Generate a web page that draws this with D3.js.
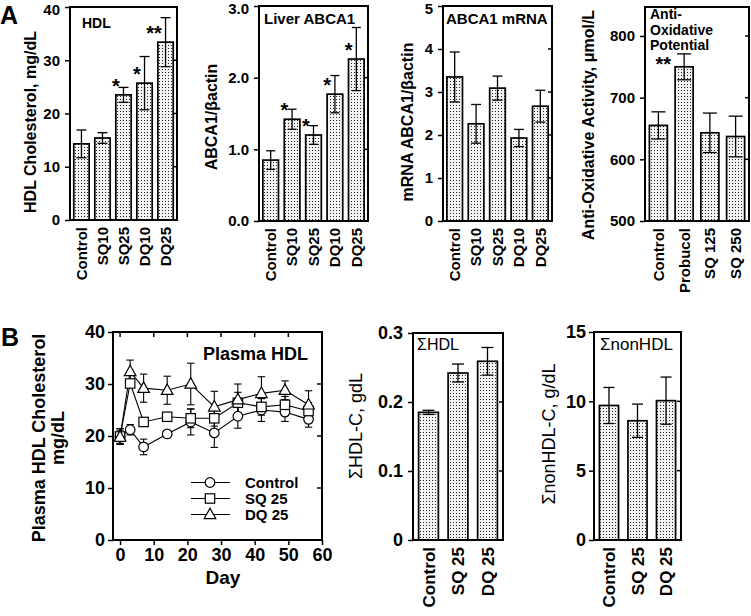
<!DOCTYPE html>
<html><head><meta charset="utf-8">
<script src="https://cdn.jsdelivr.net/npm/d3@7"></script>
<style>body{margin:0;background:#fff}svg{display:block}</style>
</head><body><svg id="c" width="751" height="616"></svg>
<script>
// ---------- data ----------
const groupsA = ["Control","SQ10","SQ25","DQ10","DQ25"];
const hdlMean = [14.3,15.4,23.5,25.7,33.4];
const hdlErr  = [2.6,1.0,1.4,5.0,4.6];
const hdlSig  = ["","","*","*","**"];
const hdlTicks = [0,10,20,30,40];

const liverMean = [0.85,1.42,1.20,1.77,2.26];
const liverErr  = [0.13,0.14,0.13,0.26,0.44];
const liverSig  = ["","*","*","*","*"];
const liverTicks = [0,1,2,3];

const mrnaMean = [3.35,2.26,3.09,1.93,2.67];
const mrnaErr  = [0.58,0.45,0.28,0.20,0.37];
const mrnaTicks = [0,1,2,3,4,5];

const groupsOx = ["Control","Probucol","SQ 125","SQ 250"];
const oxMean = [655,750,643,637];
const oxErr  = [22,21,32,33];
const oxSig  = ["","**","",""];
const oxTicks = [500,600,700,800];

const days    = [0,3,7,14,21,28,35,42,49,56];
const ctrlHDL = [19.9,21.2,17.9,20.4,22.7,20.6,23.8,25.0,24.6,23.2];
const ctrlErr = [1.5,1.0,1.5,0.5,2.5,2.8,2.3,2.2,1.8,1.5];
const sqHDL   = [19.9,30.1,22.7,23.7,23.4,23.4,26.4,25.6,26.0,24.8];
const sqErr   = [1.5,0.6,0.5,0.6,1.8,1.5,2.0,1.6,1.6,1.6];
const dqHDL   = [19.8,32.4,29.2,28.8,30.0,25.6,27.0,28.2,28.8,26.0];
const dqErr   = [1.2,2.2,2.7,2.7,4.0,3.0,3.0,3.2,1.8,2.7];
const dayTicks = [0,10,20,30,40,50,60];
const plasmaTicks = [0,10,20,30,40];

const groupsB = ["Control","SQ 25","DQ 25"];
const sumHdlMean = [0.185,0.242,0.259];
const sumHdlErr  = [0.003,0.013,0.020];
const sumHdlTicks = [0,0.1,0.2,0.3];
const sumNonMean = [9.7,8.6,10.05];
const sumNonErr  = [1.3,1.2,1.7];
const sumNonTicks = [0,5,10,15];

// ---------- drawing ----------
const F = '"Liberation Sans", Arial, Helvetica, sans-serif';
const svg = d3.select("#c");
const defs = svg.append("defs");
const pat = defs.append("pattern").attr("id","dots").attr("width",3).attr("height",3)
  .attr("patternUnits","userSpaceOnUse");
pat.append("rect").attr("width",3).attr("height",3).attr("fill","#f3f3f3");
pat.append("rect").attr("width",1).attr("height",1).attr("fill","#222");

function text(g, s, x, y, size, weight, anchor, rot, dy) {
  const t = g.append("text").attr("font-family",F).attr("font-size",size)
    .attr("font-weight",weight||"normal").attr("text-anchor",anchor||"start").attr("fill","#000").text(s);
  if (rot) t.attr("transform",`translate(${x},${y}) rotate(${rot})`);
  else t.attr("x",x).attr("y",y);
  if (dy) t.attr("dy",dy);
  return t;
}

function styleAxis(ax, size) {
  ax.attr("font-family",F).attr("font-size",size).attr("font-weight","bold");
  ax.select(".domain").remove();
  ax.selectAll("line").attr("stroke","#000").attr("stroke-width",1.5);
  ax.selectAll("text").attr("fill","#000");
}

function barPanel(o) {
  const g = svg.append("g");
  const x = d3.scaleBand().domain(o.cats).range([o.x0,o.x1]).paddingInner(o.pi).paddingOuter(o.po);
  const y = d3.scaleLinear().domain(o.domain).range([o.y1,o.y0]);
  const base = y(o.domain[0]);
  const cx = d => x(d) + x.bandwidth()/2;
  g.selectAll("rect.bar").data(o.cats).join("rect").attr("class","bar")
    .attr("x",d=>x(d)).attr("y",(d,i)=>y(o.mean[i]))
    .attr("width",x.bandwidth()).attr("height",(d,i)=>base-y(o.mean[i]))
    .attr("fill","url(#dots)").attr("stroke","#000").attr("stroke-width",1.7);
  const eb = g.selectAll("g.eb").data(o.cats).join("g").attr("class","eb")
    .attr("stroke","#000").attr("stroke-width",1.3);
  eb.append("line").attr("x1",cx).attr("x2",cx)
    .attr("y1",(d,i)=>y(o.mean[i]-o.err[i])).attr("y2",(d,i)=>y(o.mean[i]+o.err[i]));
  [1,-1].forEach(s=>{
    eb.append("line").attr("x1",d=>cx(d)-o.cap).attr("x2",d=>cx(d)+o.cap)
      .attr("y1",(d,i)=>y(o.mean[i]+s*o.err[i])).attr("y2",(d,i)=>y(o.mean[i]+s*o.err[i]));
  });
  // frame
  g.append("rect").attr("x",o.x0).attr("y",o.y0).attr("width",o.x1-o.x0).attr("height",o.y1-o.y0)
    .attr("fill","none").attr("stroke","#000").attr("stroke-width",2);
  // left axis
  const ax = g.append("g").attr("transform",`translate(${o.x0},0)`)
    .call(d3.axisLeft(y).tickValues(o.ticks).tickFormat(o.fmt).tickSize(5).tickPadding(o.tp||5));
  styleAxis(ax, o.tfs);
  // keep a label at the very top edge inside the picture
  ax.selectAll(".tick text").filter(d => y(d) < 10).attr("y", 2.5);
  // right inner ticks
  g.selectAll("line.rt").data(o.ticks.filter(t=>t>o.domain[0] && t<o.domain[1])).join("line")
    .attr("x1",o.x1-4).attr("x2",o.x1).attr("y1",d=>y(d)).attr("y2",d=>y(d))
    .attr("stroke","#000").attr("stroke-width",1.5);
  // category labels
  o.cats.forEach(c=>{
    text(g, c, cx(c), o.y1+7, o.xfs, "bold", "end", -90, "0.36em");
  });
  // significance
  if (o.sig) o.cats.forEach((c,i)=>{
    if (o.sig[i]) text(g, o.sig[i], x(c)+o.sigDx, y(o.mean[i])-o.sigUp, 20, "bold", "end");
  });
  // y title
  text(g, o.ytitle, o.ytx, o.yty, o.yfs, o.yweight||"bold", "middle", -90, "0.36em");
  // panel title
  o.title.forEach((s,i)=> text(g, s, o.titleX, o.titleY + i*15.5, o.titleFs, o.titleW||"bold", "start"));
  return g;
}

const fmt1 = d3.format(".1f");
barPanel({cats:groupsA, mean:hdlMean, err:hdlErr, sig:hdlSig, domain:[0,40], ticks:hdlTicks, fmt:d3.format("d"),
  x0:70, x1:177, y0:7, y1:220, pi:0.27, po:0.18, cap:5, tfs:15, xfs:15,
  ytitle:"HDL Cholesterol, mg/dL", ytx:30, yty:122, yfs:16,
  title:["HDL"], titleX:82, titleY:28, titleFs:14, titleW:"bold", sigDx:4, sigUp:2});
barPanel({cats:groupsA, mean:liverMean, err:liverErr, sig:liverSig, domain:[0,3], ticks:liverTicks, fmt:fmt1,
  x0:259, x1:368, y0:6, y1:221, pi:0.27, po:0.18, cap:4.5, tfs:15, xfs:15,
  ytitle:"ABCA1/βactin", ytx:211, yty:117, yfs:16,
  title:["Liver ABCA1"], titleX:264, titleY:24, titleFs:15, sigDx:4, sigUp:2});
barPanel({cats:groupsA, mean:mrnaMean, err:mrnaErr, sig:null, domain:[0,5], ticks:mrnaTicks, fmt:d3.format("d"),
  x0:443, x1:552, y0:6, y1:221, pi:0.27, po:0.18, cap:5, tfs:15, xfs:15,
  ytitle:"mRNA ABCA1/βactin", ytx:407, yty:122, yfs:16,
  title:["ABCA1 mRNA"], titleX:446, titleY:24, titleFs:15});
barPanel({cats:groupsOx, mean:oxMean, err:oxErr, sig:oxSig, domain:[500,847], ticks:oxTicks, fmt:d3.format("d"),
  x0:645, x1:749, y0:7, y1:221, pi:0.3, po:0.17, cap:7, tfs:15, xfs:15,
  ytitle:"Anti-Oxidative Activity, μmol/L", ytx:588, yty:125, yfs:16,
  title:["Anti-","Oxidative","Potential"], titleX:650, titleY:19, titleFs:14, sigDx:-4, sigUp:-4});

barPanel({cats:groupsB, mean:sumHdlMean, err:sumHdlErr, sig:null, domain:[0,0.3], ticks:sumHdlTicks, fmt:d=>d===0?"0":fmt1(d),
  x0:413, x1:503, y0:333, y1:540, pi:0.33, po:0.19, cap:6, tfs:18, xfs:17, tp:5,
  ytitle:"ΣHDL-C, gdL", ytx:356, yty:426, yfs:18, yweight:"normal",
  title:["ΣHDL"], titleX:417, titleY:350, titleFs:16, titleW:"normal"});
barPanel({cats:groupsB, mean:sumNonMean, err:sumNonErr, sig:null, domain:[0,15], ticks:sumNonTicks, fmt:d3.format("d"),
  x0:594, x1:681, y0:332, y1:540, pi:0.33, po:0.19, cap:5.5, tfs:18, xfs:17, tp:3,
  ytitle:"ΣnonHDL-C, g/dL", ytx:549, yty:434, yfs:18, yweight:"normal",
  title:["ΣnonHDL"], titleX:600, titleY:350, titleFs:17, titleW:"normal"});

// panel letters
text(svg, "A", 0, 24, 25, "bold", "start");
text(svg, "B", 1, 346, 25, "bold", "start");

// ---------- B line chart ----------
(function(){
  const g = svg.append("g");
  const x = d3.scaleLinear().domain([-2.1,60]).range([113,322]);
  const y = d3.scaleLinear().domain([0,40]).range([540,332]);
  const series = [
    {name:"Control", vals:ctrlHDL, err:ctrlErr, sym:"circle"},
    {name:"SQ 25", vals:sqHDL, err:sqErr, sym:"square"},
    {name:"DQ 25", vals:dqHDL, err:dqErr, sym:"triangle"}
  ];
  function marker(sel, sym) {
    if (sym==="circle") sel.append("circle").attr("r",4.8);
    else if (sym==="square") sel.append("rect").attr("x",-4.7).attr("y",-4.7).attr("width",9.4).attr("height",9.4);
    else sel.append("path").attr("d","M0,-6.3L5.8,4.2L-5.8,4.2Z");
    sel.selectAll("*").attr("fill","#fff").attr("stroke","#000").attr("stroke-width",1.2);
  }
  // error bars
  series.forEach(s=>{
    const eg = g.append("g").attr("stroke","#000").attr("stroke-width",1.1);
    days.forEach((d,i)=>{
      const px = x(d), lo = y(s.vals[i]-s.err[i]), hi = y(s.vals[i]+s.err[i]);
      eg.append("line").attr("x1",px).attr("x2",px).attr("y1",lo).attr("y2",hi);
      eg.append("line").attr("x1",px-3.7).attr("x2",px+3.7).attr("y1",lo).attr("y2",lo);
      eg.append("line").attr("x1",px-3.7).attr("x2",px+3.7).attr("y1",hi).attr("y2",hi);
    });
  });
  // lines
  const line = d3.line().x((d,i)=>x(days[i])).y(d=>y(d));
  series.forEach(s=>{
    g.append("path").attr("d",line(s.vals)).attr("fill","none").attr("stroke","#000").attr("stroke-width",1.1);
  });
  // markers
  series.forEach(s=>{
    days.forEach((d,i)=>{
      const m = g.append("g").attr("transform",`translate(${x(d)},${y(s.vals[i])})`);
      marker(m, s.sym);
    });
  });
  // frame
  g.append("rect").attr("x",113).attr("y",332).attr("width",209).attr("height",208)
    .attr("fill","none").attr("stroke","#000").attr("stroke-width",2);
  const ay = g.append("g").attr("transform","translate(113,0)")
    .call(d3.axisLeft(y).tickValues(plasmaTicks).tickFormat(d3.format("d")).tickSize(5).tickPadding(3));
  styleAxis(ay, 18);
  const axb = g.append("g").attr("transform","translate(0,540)")
    .call(d3.axisBottom(x).tickValues(dayTicks).tickFormat(d3.format("d")).tickSize(5).tickPadding(3));
  styleAxis(axb, 18);
  // inner ticks top and right
  g.selectAll("line.tt").data(dayTicks).join("line").attr("x1",d=>x(d)).attr("x2",d=>x(d))
    .attr("y1",332).attr("y2",337).attr("stroke","#000").attr("stroke-width",1.5);
  g.selectAll("line.rr").data(plasmaTicks.slice(1,-1)).join("line").attr("x1",317).attr("x2",322)
    .attr("y1",d=>y(d)).attr("y2",d=>y(d)).attr("stroke","#000").attr("stroke-width",1.5);
  // titles
  text(g, "Plasma HDL", 308, 360, 18, "bold", "end");
  text(g, "Day", 223, 584, 19, "bold", "middle");
  text(g, "Plasma HDL Cholesterol", 39, 438, 18, "bold", "middle", -90, "0.36em");
  text(g, "mg/dL", 58, 438, 18, "bold", "middle", -90, "0.36em");
  // legend
  const rowY = [482.5, 498.5, 514.5];
  series.forEach((s,i)=>{
    g.append("line").attr("x1",191).attr("x2",230).attr("y1",rowY[i]).attr("y2",rowY[i])
      .attr("stroke","#000").attr("stroke-width",1.1);
    const m = g.append("g").attr("transform",`translate(210,${rowY[i]})`);
    marker(m, s.sym);
    text(g, s.name, 245, rowY[i]+5.3, 15, "bold", "start");
  });
})();
</script>
</body></html>
